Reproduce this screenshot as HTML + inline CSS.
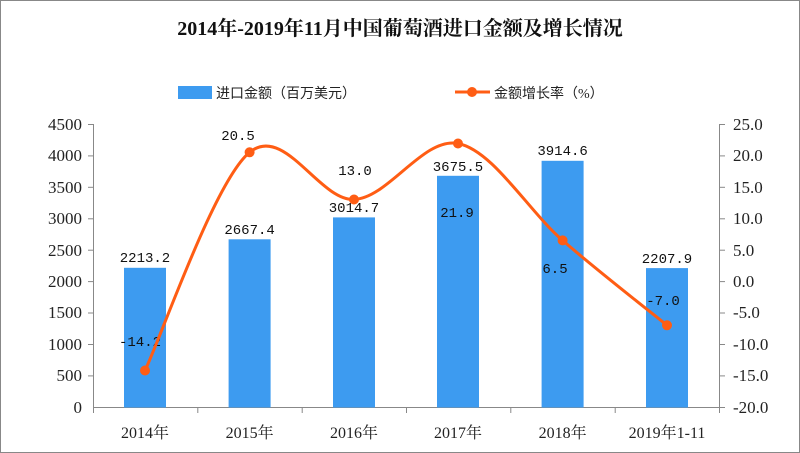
<!DOCTYPE html>
<html><head><meta charset="utf-8"><style>
html,body{margin:0;padding:0;background:#fff;}
svg{display:block;}
</style></head><body>
<svg width="800" height="453" xmlns="http://www.w3.org/2000/svg">
<rect x="0.5" y="0.5" width="799" height="452" fill="#fff" stroke="#888"/>
<text x="400" y="35" text-anchor="middle" font-family="'Liberation Serif','Noto Serif CJK SC',serif" font-weight="bold" font-size="20" fill="#111">2014年-2019年11月中国葡萄酒进口金额及增长情况</text>
<rect x="178" y="86" width="34" height="13" fill="#3d9bf0"/>
<text x="216" y="98" font-family="'Liberation Serif','Noto Sans CJK SC',sans-serif" font-size="14" fill="#222">进口金额（百万美元）</text>
<line x1="455" y1="92" x2="490" y2="92" stroke="#ff5d14" stroke-width="3"/>
<circle cx="472" cy="92" r="5" fill="#ff5d14"/>
<text x="494" y="98" font-family="'Liberation Serif','Noto Sans CJK SC',sans-serif" font-size="14" fill="#222">金额增长率（%）</text>
<g stroke="#888" stroke-width="1" fill="none">
<line x1="93.5" y1="124" x2="93.5" y2="408"/>
<line x1="719.5" y1="124" x2="719.5" y2="408"/>
<line x1="93" y1="407.5" x2="720" y2="407.5"/>
<line x1="88" y1="124.5" x2="93" y2="124.5"/><line x1="88" y1="155.9" x2="93" y2="155.9"/><line x1="88" y1="187.3" x2="93" y2="187.3"/><line x1="88" y1="218.8" x2="93" y2="218.8"/><line x1="88" y1="250.2" x2="93" y2="250.2"/><line x1="88" y1="281.6" x2="93" y2="281.6"/><line x1="88" y1="313" x2="93" y2="313"/><line x1="88" y1="344.5" x2="93" y2="344.5"/><line x1="88" y1="375.9" x2="93" y2="375.9"/>
<line x1="720" y1="124.5" x2="725" y2="124.5"/><line x1="720" y1="155.9" x2="725" y2="155.9"/><line x1="720" y1="187.3" x2="725" y2="187.3"/><line x1="720" y1="218.8" x2="725" y2="218.8"/><line x1="720" y1="250.2" x2="725" y2="250.2"/><line x1="720" y1="281.6" x2="725" y2="281.6"/><line x1="720" y1="313" x2="725" y2="313"/><line x1="720" y1="344.5" x2="725" y2="344.5"/><line x1="720" y1="375.9" x2="725" y2="375.9"/><line x1="720" y1="407.5" x2="725" y2="407.5"/>
<line x1="197.8" y1="408" x2="197.8" y2="413"/><line x1="302.2" y1="408" x2="302.2" y2="413"/><line x1="406.5" y1="408" x2="406.5" y2="413"/><line x1="510.8" y1="408" x2="510.8" y2="413"/><line x1="615.2" y1="408" x2="615.2" y2="413"/><line x1="93.5" y1="408" x2="93.5" y2="413"/><line x1="719.5" y1="408" x2="719.5" y2="413"/>
</g>
<g font-family="'Liberation Serif',serif" font-size="17" fill="#222" text-anchor="end">
<text x="82" y="130">4500</text><text x="82" y="161">4000</text><text x="82" y="193">3500</text><text x="82" y="224">3000</text><text x="82" y="256">2500</text><text x="82" y="287">2000</text><text x="82" y="318">1500</text><text x="82" y="350">1000</text><text x="82" y="381">500</text><text x="82" y="413">0</text>
</g>
<g font-family="'Liberation Serif',serif" font-size="17" fill="#222" text-anchor="start">
<text x="733" y="130">25.0</text><text x="733" y="161">20.0</text><text x="733" y="193">15.0</text><text x="733" y="224">10.0</text><text x="733" y="256">5.0</text><text x="733" y="287">0.0</text><text x="733" y="318">-5.0</text><text x="733" y="350">-10.0</text><text x="733" y="381">-15.0</text><text x="733" y="413">-20.0</text>
</g>
<g fill="#3d9bf0">
<rect x="124" y="267.8" width="42" height="139.7"/>
<rect x="228.6" y="239.3" width="42" height="168.2"/>
<rect x="333" y="217.4" width="42" height="190.1"/>
<rect x="437" y="175.8" width="42" height="231.7"/>
<rect x="541.6" y="160.8" width="42" height="246.7"/>
<rect x="646" y="268.1" width="42" height="139.4"/>
</g>
<g font-family="'Liberation Mono',monospace" font-size="14" fill="#111" text-anchor="middle">
<text x="145" y="262">2213.2</text><text x="249.6" y="234">2667.4</text><text x="354" y="212">3014.7</text><text x="458" y="171">3675.5</text><text x="562.6" y="155">3914.6</text><text x="667" y="263">2207.9</text>
<text x="140" y="346">-14.2</text><text x="238" y="140">20.5</text><text x="355" y="175">13.0</text><text x="457" y="217">21.9</text><text x="555" y="273">6.5</text><text x="663" y="305">-7.0</text>
</g>
<path d="M145,370.5 C162.4,334.1 214.8,180.8 249.6,152.3 C284.4,123.8 319.3,201 354,199.5 C388.7,198 423.2,136.7 458,143.5 C492.8,150.3 527.8,210.1 562.6,240.4 C597.4,270.7 649.6,311.2 667,325.3" fill="none" stroke="#ff5d14" stroke-width="3"/>
<g fill="#ff5d14">
<circle cx="145" cy="370.5" r="5"/><circle cx="249.6" cy="152.3" r="5"/><circle cx="354" cy="199.5" r="5"/><circle cx="458" cy="143.5" r="5"/><circle cx="562.6" cy="240.4" r="5"/><circle cx="667" cy="325.3" r="5"/>
</g>
<g font-family="'Liberation Serif','Noto Serif CJK SC',serif" font-size="16" fill="#222" text-anchor="middle">
<text x="145" y="438">2014年</text><text x="249.6" y="438">2015年</text><text x="354" y="438">2016年</text><text x="458" y="438">2017年</text><text x="562.6" y="438">2018年</text><text x="667" y="438">2019年1-11</text>
</g>
</svg>
</body></html>
